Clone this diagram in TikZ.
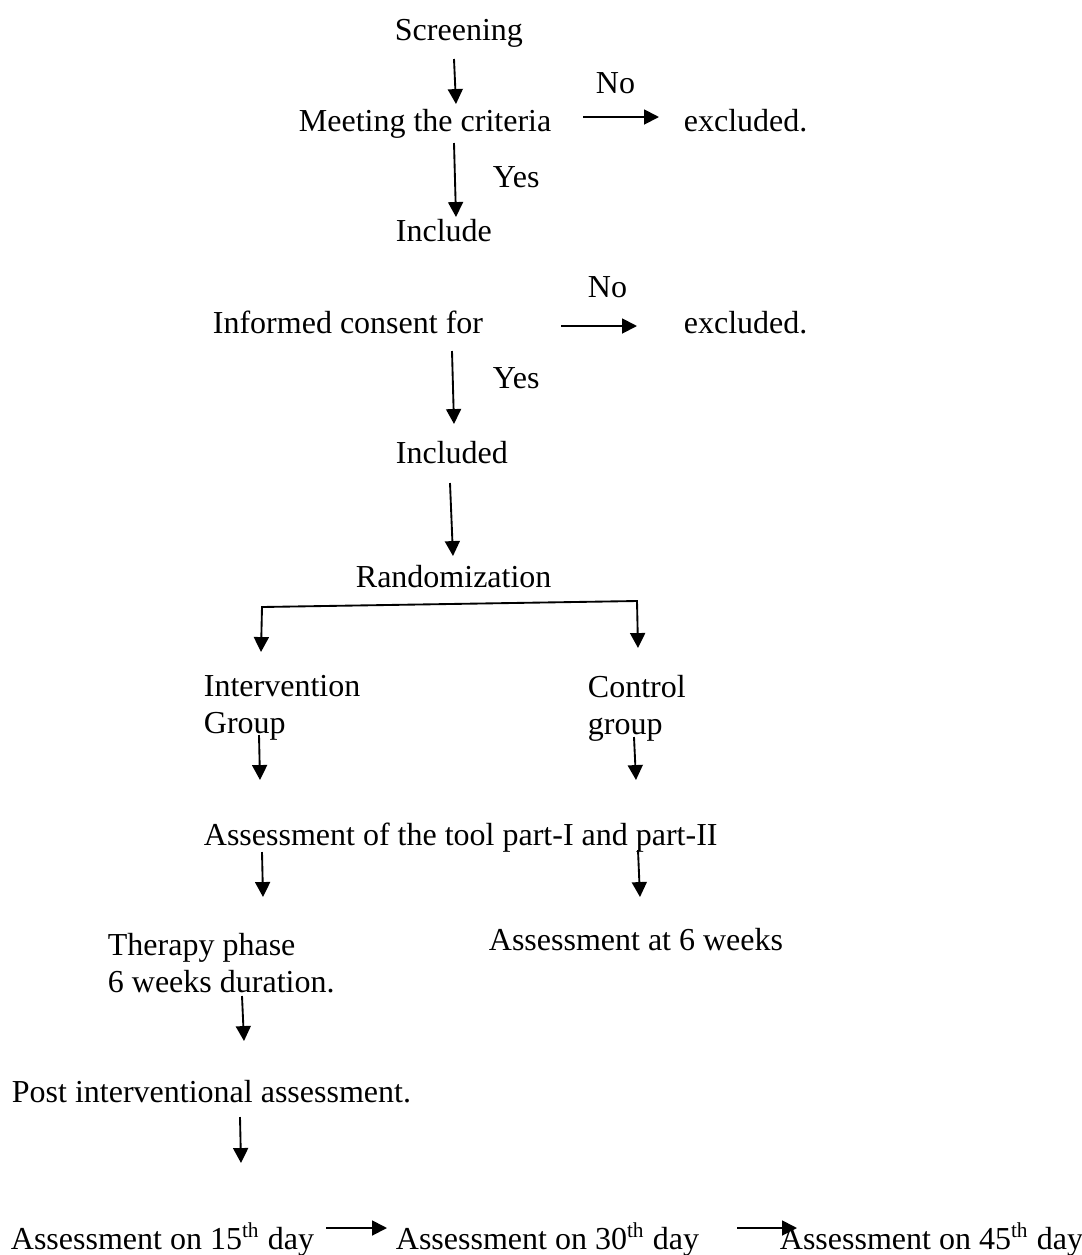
\documentclass[tikz,border=0pt]{standalone}
\usepackage{fontspec}
\setmainfont{Liberation Serif}
\usepackage{tikz}
\usetikzlibrary{arrows.meta}

\begin{document}
\begin{tikzpicture}[x=0.375pt,y=-0.375pt,->,>={Triangle[length=5.6pt,width=5.6pt]},
                    line width=0.7pt,font=\fontsize{12pt}{13.6pt}\selectfont]
  \tikzstyle{txt}=[anchor=base west, inner sep=0pt, align=left]
  \useasboundingbox (0,0) rectangle (1082,1255);
  % texts (two-line nodes sit on the baseline of their last line)
  \node[txt] (screen)   at (394,40)   {Screening};
  \node[txt] (meet)     at (298,131)  {Meeting the criteria};
  \node[txt] (noA)      at (595,93)   {No};
  \node[txt] (exclA)    at (683,131)  {excluded.};
  \node[txt] (yesA)     at (492,187)  {Yes};
  \node[txt] (include)  at (395,241)  {Include};
  \node[txt] (consent)  at (212,333)  {Informed consent for};
  \node[txt] (noB)      at (587,297)  {No};
  \node[txt] (exclB)    at (683,333)  {excluded.};
  \node[txt] (yesB)     at (492,388)  {Yes};
  \node[txt] (included) at (395,463)  {Included};
  \node[txt] (random)   at (355,587)  {Randomization};
  \node[txt] (interv)   at (203,733)  {Intervention\\Group};
  \node[txt] (control)  at (587,734)  {Control\\group};
  \node[txt] (tool)     at (203,845)  {Assessment of the tool part-I and part-II};
  \node[txt] (therapy)  at (107,992)  {Therapy phase\\6 weeks duration.};
  \node[txt] (sixwk)    at (488,950)  {Assessment at 6 weeks};
  \node[txt] (post)     at (11,1102)  {Post interventional assessment.};
  \node[txt] (dayA)     at (10,1249)  {Assessment on 15\textsuperscript{th} day};
  \node[txt] (dayB)     at (395,1249) {Assessment on 30\textsuperscript{th} day};
  \node[txt] (dayC)     at (779,1249) {Assessment on 45\textsuperscript{th} day};
  % arrow ends
  \coordinate (screen-s) at (454,59);   \coordinate (meet-n) at (456,104);
  \coordinate (meet-s) at (454,143);    \coordinate (include-n) at (456,217);
  \coordinate (meet-e) at (583,117);    \coordinate (exclA-w) at (659,117);
  \coordinate (consent-s) at (452,351); \coordinate (included-n) at (454,424);
  \coordinate (consent-e) at (561,326); \coordinate (exclB-w) at (637,326);
  \coordinate (included-s) at (450,483); \coordinate (random-n) at (453,556);
  \coordinate (split-l) at (262,607);   \coordinate (interv-n) at (261,652);
  \coordinate (split-r) at (637,601);   \coordinate (control-n) at (638,648);
  \coordinate (interv-s) at (259,735);  \coordinate (toolA-n) at (260,780);
  \coordinate (control-s) at (634,737); \coordinate (toolB-n) at (636,780);
  \coordinate (toolA-s) at (262,852);   \coordinate (therapy-n) at (263,897);
  \coordinate (toolB-s) at (638,850);   \coordinate (sixwk-n) at (640,897);
  \coordinate (therapy-s) at (242,996); \coordinate (post-n) at (244,1041);
  \coordinate (post-s) at (240,1117);   \coordinate (dayA-n) at (241,1163);
  \coordinate (dayA-e) at (326,1228);   \coordinate (dayB-w) at (387,1228);
  \coordinate (dayB-e) at (737,1228);   \coordinate (dayC-w) at (797,1228);
  \path (screen-s) edge (meet-n)
        (meet-s) edge (include-n)
        (meet-e) edge (exclA-w)
        (consent-s) edge (included-n)
        (consent-e) edge (exclB-w)
        (included-s) edge (random-n)
        (interv-s) edge (toolA-n)
        (control-s) edge (toolB-n)
        (toolA-s) edge (therapy-n)
        (toolB-s) edge (sixwk-n)
        (therapy-s) edge (post-n)
        (post-s) edge (dayA-n)
        (dayA-e) edge (dayB-w)
        (dayB-e) edge (dayC-w);
  \draw[<->] (interv-n) -- (split-l) -- (split-r) -- (control-n);
\end{tikzpicture}
\end{document}
